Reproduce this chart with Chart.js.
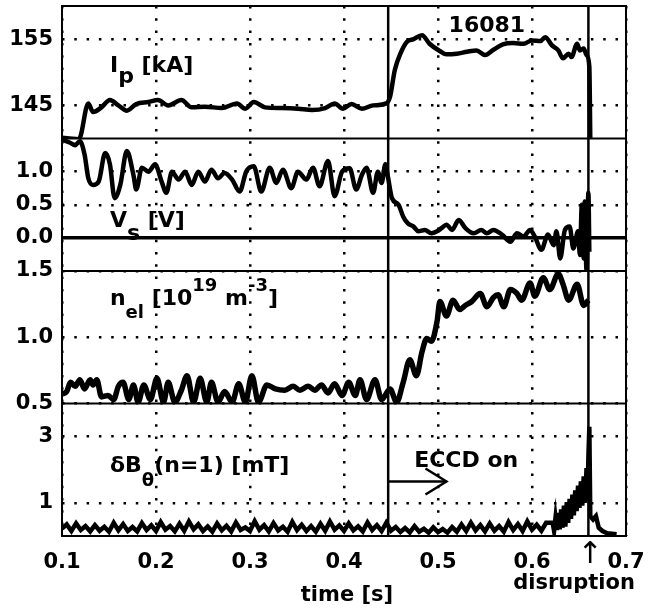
<!DOCTYPE html>
<html>
<head>
<meta charset="utf-8">
<script src="https://cdn.jsdelivr.net/npm/chart.js@4.4.0/dist/chart.umd.min.js"></script>
<style>
  html, body { margin: 0; padding: 0; background: #fff; }
  canvas { display: block; }
</style>
</head>
<body>
<canvas id="c" width="649" height="613"></canvas>
<script>
// ---------- data ----------
const xTicks = [0.1, 0.2, 0.3, 0.4, 0.5, 0.6, 0.7];
const ipTicks = [145, 155];
const vsTicks = [0.0, 0.5, 1.0];
const neTicks = [0.5, 1.0, 1.5];
const dbTicks = [1, 3];

const eccdOn = 0.447;
const disruption = 0.660;

// Plasma current Ip [kA]
const ipT = [0.100,0.108,0.118,0.128,0.133,0.142,0.151,0.160,0.169,0.179,
             0.192,0.202,0.213,0.227,0.238,0.252,0.270,0.286,0.295,0.304,
             0.316,0.334,0.351,0.366,0.380,0.390,0.399,0.408,0.419,0.431,
             0.445,0.449,0.454,0.460,0.467,0.474,0.483,0.491,0.502,0.509,
             0.520,0.531,0.541,0.550,0.559,0.569,0.580,0.591,0.600,0.609,
             0.614,0.621,0.628,0.633,0.639,0.642,0.648,0.651,0.655,0.658,
             0.661,0.662];
const ipV = [140.1,140.0,139.9,145.3,144.0,144.7,145.8,145.0,144.2,145.2,
             145.5,145.8,145.0,145.8,144.7,144.8,144.6,145.3,144.5,145.5,
             144.7,144.6,144.5,144.3,144.6,145.3,144.5,145.2,144.5,145.0,
             145.3,146.3,150.3,152.8,154.6,155.0,155.6,154.3,153.2,152.7,
             152.8,153.1,153.3,152.6,153.4,154.2,154.4,154.3,154.8,154.7,
             155.3,154.1,153.3,152.1,152.8,152.3,154.3,153.3,153.6,152.6,
             150.8,140.0];

// Loop voltage Vs [V]
const vsT = [0.100,0.108,0.114,0.119,0.124,0.128,0.133,0.139,0.146,0.151,
             0.156,0.162,0.169,0.176,0.179,0.185,0.192,0.199,0.206,0.211,
             0.217,0.224,0.231,0.238,0.245,0.252,0.259,0.266,0.273,0.281,
             0.289,0.296,0.304,0.312,0.321,0.328,0.335,0.344,0.351,0.360,
             0.367,0.374,0.383,0.390,0.398,0.406,0.413,0.419,0.424,0.431,
             0.436,0.440,0.444,0.447,0.451,0.458,0.463,0.468,0.474,0.479,
             0.486,0.493,0.499,0.504,0.509,0.515,0.522,0.529,0.538,0.546,
             0.552,0.559,0.568,0.577,0.584,0.591,0.598,0.603,0.610,0.617,
             0.623,0.626,0.630,0.635,0.640,0.644,0.649,0.651,0.653,0.655,
             0.656,0.658,0.660,0.661];
const vsV = [1.48,1.44,1.40,1.46,1.26,0.90,0.80,0.85,1.28,1.11,
             0.60,0.80,1.31,0.95,0.73,1.06,1.00,1.11,0.85,0.68,
             1.00,0.88,1.00,0.80,1.00,0.85,1.03,0.90,0.98,0.88,
             0.70,1.00,1.08,0.70,1.06,0.83,1.03,0.75,1.00,0.88,
             1.06,0.78,1.16,0.63,1.00,1.05,0.73,0.95,1.06,0.68,
             1.00,0.83,1.11,0.90,0.60,0.50,0.32,0.22,0.17,0.10,
             0.12,0.07,0.10,0.15,0.20,0.12,0.27,0.15,0.07,0.12,
             0.07,0.12,0.05,-0.06,0.07,0.02,0.12,0.02,-0.18,0.05,
             -0.11,0.10,-0.31,0.12,0.17,-0.16,0.10,-0.26,0.50,-0.31,
             0.55,-0.50,0.68,-0.21];

// Line-averaged density n_el [1e19 m^-3]
const neT = [0.100,0.105,0.109,0.114,0.119,0.124,0.130,0.133,0.137,0.142,
             0.149,0.155,0.160,0.165,0.171,0.176,0.181,0.187,0.194,0.201,
             0.208,0.213,0.220,0.227,0.233,0.240,0.247,0.254,0.259,0.266,
             0.273,0.281,0.288,0.295,0.302,0.309,0.318,0.327,0.337,0.346,
             0.353,0.362,0.369,0.376,0.383,0.390,0.398,0.405,0.412,0.417,
             0.424,0.433,0.440,0.449,0.456,0.463,0.470,0.477,0.483,0.488,
             0.493,0.499,0.502,0.509,0.516,0.523,0.529,0.536,0.545,0.552,
             0.559,0.564,0.570,0.577,0.584,0.589,0.598,0.603,0.612,0.619,
             0.628,0.633,0.639,0.648,0.655,0.660];
const neV = [0.57,0.59,0.66,0.63,0.68,0.61,0.68,0.64,0.68,0.55,
             0.56,0.53,0.63,0.66,0.53,0.64,0.51,0.64,0.53,0.69,
             0.51,0.66,0.51,0.60,0.71,0.51,0.69,0.51,0.66,0.51,
             0.59,0.51,0.65,0.51,0.71,0.51,0.64,0.61,0.60,0.63,
             0.60,0.63,0.60,0.64,0.58,0.65,0.56,0.66,0.56,0.68,
             0.53,0.68,0.53,0.61,0.51,0.66,0.83,0.71,0.89,0.99,
             0.97,1.12,1.27,1.16,1.28,1.21,1.24,1.27,1.33,1.23,
             1.30,1.32,1.23,1.36,1.33,1.28,1.41,1.31,1.45,1.36,
             1.48,1.40,1.28,1.40,1.24,1.28];

// Mode amplitude dB_theta (n=1) [mT]
const dbT = [0.100,0.105,0.110,0.115,0.120,0.125,0.130,0.135,0.140,0.145,
             0.150,0.155,0.160,0.165,0.170,0.175,0.180,0.185,0.190,0.195,
             0.200,0.205,0.210,0.215,0.220,0.225,0.230,0.235,0.240,0.245,
             0.250,0.255,0.260,0.265,0.270,0.275,0.280,0.285,0.290,0.295,
             0.300,0.305,0.310,0.315,0.320,0.325,0.330,0.335,0.340,0.345,
             0.350,0.355,0.360,0.365,0.370,0.375,0.380,0.385,0.390,0.395,
             0.400,0.405,0.410,0.415,0.420,0.425,0.430,0.435,0.440,0.445,
             0.450,0.455,0.460,0.465,0.470,0.475,0.480,0.485,0.490,0.495,
             0.500,0.505,0.510,0.515,0.520,0.525,0.530,0.535,0.540,0.545,
             0.550,0.555,0.560,0.565,0.570,0.575,0.580,0.585,0.590,0.595,
             0.600,0.605,0.610,0.615,
             0.6220,0.6235,0.6250,0.6265,0.6280,0.6295,0.6310,0.6325,0.6340,0.6355,
             0.6370,0.6385,0.6400,0.6415,0.6430,0.6445,0.6460,0.6475,0.6490,0.6505,
             0.6520,0.6535,0.6550,0.6565,0.6580,0.6590,0.6600,0.6610,0.6620,0.6650,
             0.6680,0.6710,0.6750,0.6800,0.6900];
const dbV = [0.22,0.35,0.15,0.38,0.18,0.30,0.14,0.33,0.16,0.28,
             0.13,0.40,0.17,0.36,0.15,0.27,0.14,0.39,0.18,0.32,
             0.15,0.42,0.19,0.30,0.14,0.37,0.16,0.44,0.20,0.35,
             0.15,0.29,0.13,0.38,0.17,0.31,0.14,0.41,0.18,0.26,
             0.15,0.45,0.19,0.33,0.14,0.39,0.17,0.28,0.13,0.43,
             0.18,0.34,0.15,0.30,0.13,0.37,0.16,0.44,0.19,0.32,
             0.15,0.38,0.17,0.29,0.14,0.41,0.18,0.33,0.15,0.40,
             0.16,0.27,0.12,0.24,0.11,0.30,0.13,0.22,0.10,0.26,
             0.12,0.21,0.10,0.27,0.13,0.35,0.15,0.40,0.17,0.33,
             0.14,0.38,0.16,0.30,0.13,0.42,0.18,0.36,0.15,0.44,
             0.19,0.34,0.16,0.40,
             0.40,0.15,0.55,0.18,0.70,0.20,0.80,0.25,0.92,0.28,
             1.02,0.40,1.12,0.52,1.25,0.62,1.38,0.75,1.52,0.85,
             1.65,0.92,1.80,1.00,2.05,1.10,2.40,3.30,0.60,0.50,
             0.60,0.25,0.15,0.08,0.05];

// ---------- chart ----------
const FONT = '"DejaVu Sans", "Liberation Sans", sans-serif';
Chart.defaults.font.family = FONT;
Chart.defaults.color = '#000';

const pts = (ts, vs) => ts.map((t, i) => ({ x: t, y: vs[i] }));
const tickFont = { family: FONT, size: 21, weight: 'bold' };
const DOT = [2.5, 9.8];

function yAxis(min, max, ticks, weight, fmt, extra) {
  return Object.assign({
    type: 'linear', position: 'left', stack: 'panels', stackWeight: 1, weight: weight,
    min: min, max: max,
    afterBuildTicks: s => { s.ticks = ticks.map(v => ({ value: v })); },
    afterFit: s => { s.width = 62; s.paddingTop = 0; s.paddingBottom = 0; },
    ticks: { font: tickFont, color: '#000', padding: 9, callback: fmt },
    grid: { color: '#000', lineWidth: 2.5, drawTicks: false },
    border: { display: false, dash: DOT }
  }, extra || {});
}

const annotations = {
  id: 'annotations',
  afterDatasetsDraw(chart) {
    const { ctx, chartArea: a, scales } = chart;
    const X = scales.x;
    ctx.save();
    ctx.strokeStyle = '#000';
    ctx.fillStyle = '#000';
    ctx.lineCap = 'butt';
    const line = (x1, y1, x2, y2, w) => {
      ctx.lineWidth = w; ctx.beginPath(); ctx.moveTo(x1, y1); ctx.lineTo(x2, y2); ctx.stroke();
    };
    // panel separators
    ['yI', 'yV', 'yN'].forEach(id => line(a.left, scales[id].bottom, a.right, scales[id].bottom, 2));
    // frame
    ctx.lineWidth = 2;
    ctx.strokeRect(a.left, a.top, a.right - a.left, a.bottom - a.top);
    // ECCD-on and disruption markers
    [eccdOn, disruption].forEach(t => {
      const x = X.getPixelForValue(t);
      line(x, a.top, x, a.bottom, 2.5);
    });
    // arrow "ECCD on"
    const yB = scales.yB;
    const ay = yB.getPixelForValue(1.645);
    const ax1 = X.getPixelForValue(eccdOn), ax2 = X.getPixelForValue(0.509);
    line(ax1, ay, ax2, ay, 2.5);
    ctx.lineWidth = 2.5;
    ctx.beginPath();
    ctx.moveTo(ax2 - 21, ay - 13); ctx.lineTo(ax2, ay); ctx.lineTo(ax2 - 21, ay + 13);
    ctx.stroke();

    // rich text labels
    const rich = (x, y, parts) => {
      ctx.textAlign = 'left'; ctx.textBaseline = 'alphabetic';
      let cx = x;
      parts.forEach(([txt, dy, size]) => {
        ctx.font = `bold ${size}px ${FONT}`;
        ctx.fillText(txt, cx, y + dy);
        cx += ctx.measureText(txt).width;
      });
    };
    const lx = X.getPixelForValue(0.151);
    rich(lx, scales.yI.getPixelForValue(150.0), [['I', 0, 22], ['p', 11, 22], [' [kA]', 0, 22]]);
    rich(lx, scales.yV.getPixelForValue(0.167), [['V', 0, 22], ['s', 13, 22], [' [V]', 0, 22]]);
    rich(lx, scales.yN.getPixelForValue(1.242), [['n', 0, 22], ['el', 13, 18], [' [10', 0, 22], ['19', -14, 18], [' m', 0, 22], ['-3', -14, 18], [']', 0, 22]]);
    rich(lx, yB.getPixelForValue(1.94), [['\u03B4B', 0, 22], ['\u03B8', 14, 18], ['(n=1) [mT]', 0, 22]]);

    ctx.textAlign = 'center';
    ctx.font = `bold 22px ${FONT}`;
    ctx.fillText('16081', X.getPixelForValue(0.552), scales.yI.getPixelForValue(156.06));
    ctx.fillText('ECCD on', X.getPixelForValue(0.530), yB.getPixelForValue(2.09));

    // axis title and disruption note
    ctx.font = `bold 21px ${FONT}`;
    ctx.fillText('time [s]', (a.left + a.right) / 2 + 3, a.bottom + 65);
    ctx.fillText('disruption', X.getPixelForValue(0.6447), a.bottom + 53);
    ctx.font = `30px ${FONT}`;
    ctx.fillText('\u2191', X.getPixelForValue(0.6617), a.bottom + 27);
    ctx.restore();
  }
};

const ds = (data, axis, width, smooth) => ({
  data: data, yAxisID: axis, borderColor: '#000', borderWidth: width,
  pointRadius: 0, fill: false,
  tension: smooth ? 0.4 : 0, cubicInterpolationMode: smooth ? 'monotone' : 'default'
});

new Chart(document.getElementById('c'), {
  type: 'line',
  data: {
    datasets: [
      ds(pts(ipT, ipV), 'yI', 4.5, true),
      ds(pts(vsT, vsV), 'yV', 4.5, true),
      ds(pts(neT, neV), 'yN', 5.5, true),
      ds(pts(dbT, dbV), 'yB', 4.5, false)
    ]
  },
  options: {
    responsive: false,
    animation: false,
    devicePixelRatio: 1,
    layout: { padding: { top: 6, right: 23, left: 0, bottom: 0 } },
    plugins: { legend: { display: false }, tooltip: { enabled: false } },
    scales: {
      x: {
        type: 'linear', position: 'bottom', min: 0.1, max: 0.7,
        afterBuildTicks: s => { s.ticks = xTicks.map(v => ({ value: v })); },
        afterFit: s => { s.height = 77; s.paddingLeft = 0; s.paddingRight = 0; },
        ticks: { font: tickFont, color: '#000', padding: 14, maxRotation: 0, autoSkip: false,
                 callback: v => Number(v).toFixed(1) },
        grid: { color: '#000', lineWidth: 2.5, drawTicks: false },
        border: { display: false, dash: DOT }
      },
      yB: yAxis(0, 4, dbTicks, 1, v => String(v)),
      yN: yAxis(0.5, 1.5, neTicks, 2, v => Number(v).toFixed(1)),
      yV: yAxis(-0.5, 1.5, vsTicks, 3, v => Number(v).toFixed(1), {
        grid: {
          color: '#000', drawTicks: false,
          lineWidth: c => (c.tick && c.tick.value === 0) ? 3.5 : 2.5
        },
        border: { display: false, dash: c => (c.tick && c.tick.value === 0) ? [] : DOT }
      }),
      yI: yAxis(140, 160, ipTicks, 4, v => String(v))
    }
  },
  plugins: [annotations]
});
</script>
</body>
</html>
